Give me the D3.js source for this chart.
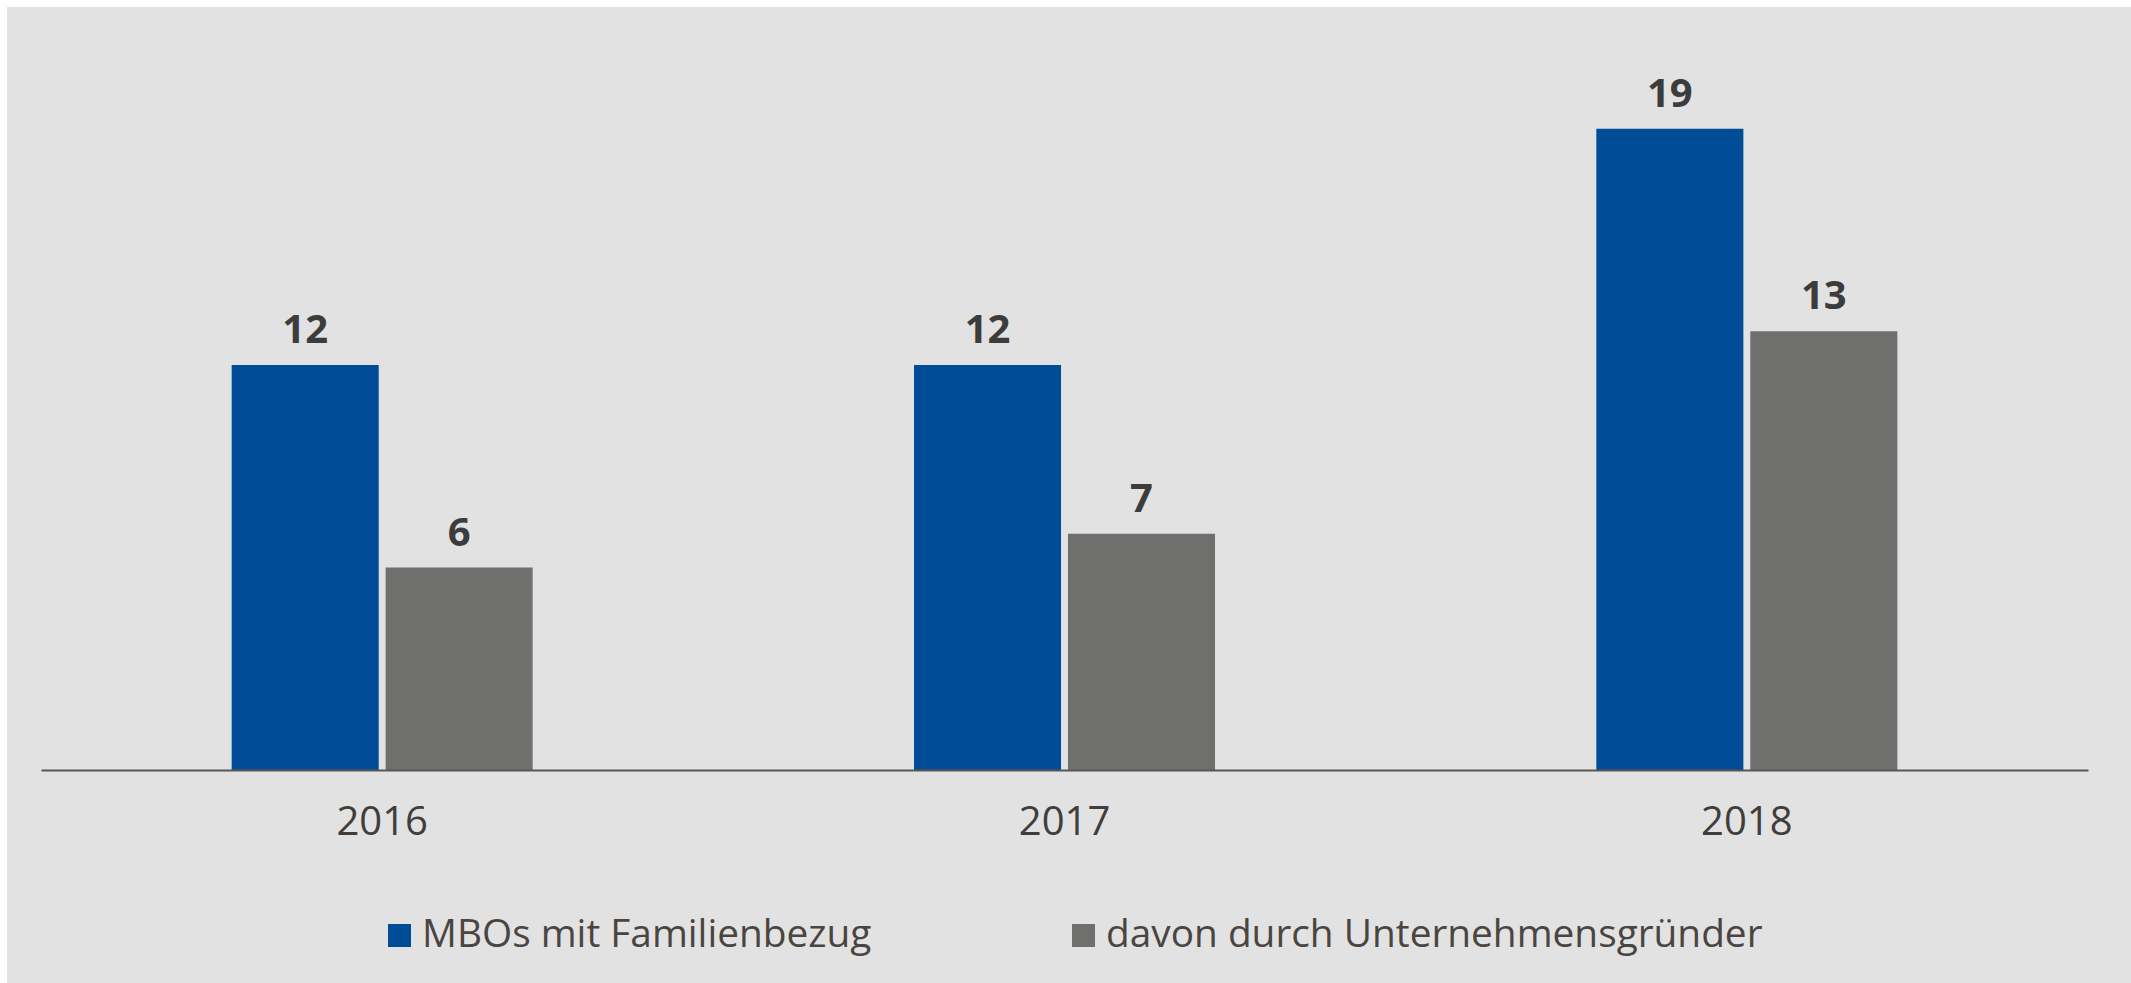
<!DOCTYPE html>
<html>
<head>
<meta charset="utf-8">
<script src="https://cdn.jsdelivr.net/npm/d3@7"></script>
<style>
    html, body { margin: 0; padding: 0; background: #ffffff; }
    #chart-area { width: 2131px; height: 983px; }
    text { font-family: "Open Sans", "Noto Sans", sans-serif; }
</style>
</head>
<body>
<div id="chart-area"></div>
<script>

// chart data
let years = ["2016", "2017", "2018"];
let seriesNames = ["MBOs mit Familienbezug", "davon durch Unternehmensgründer"];
let mboFamily = [12, 12, 19];
let founders = [6, 7, 13];
let seriesColors = ["#004c97", "#6f6f6e"];


class GroupedBarVis {

    constructor(_parentElement) {
        this.parentElement = _parentElement;
        this.initVis();
    }

    initVis() {
        let vis = this;

        vis.margin = {top: 95, right: 43, bottom: 213, left: 41};
        vis.fullWidth = 2131;
        vis.fullHeight = 983;
        vis.width = vis.fullWidth - vis.margin.left - vis.margin.right;
        vis.height = vis.fullHeight - vis.margin.top - vis.margin.bottom;

        vis.root = d3.select("#" + vis.parentElement).append("svg")
            .attr("width", vis.fullWidth)
            .attr("height", vis.fullHeight);

        // grey panel behind the chart
        vis.root.append("rect")
            .attr("x", 7)
            .attr("y", 7)
            .attr("width", vis.fullWidth - 7)
            .attr("height", vis.fullHeight - 7)
            .attr("fill", "#e2e2e2");

        vis.svg = vis.root.append("g")
            .attr("transform", "translate(" + vis.margin.left + "," + vis.margin.top + ")");

        // scales
        vis.x0 = d3.scaleBand()
            .domain(years)
            .range([0, vis.width])
            .padding(0);

        vis.x1 = d3.scaleBand()
            .domain(seriesNames)
            .range([0, 301])
            .paddingInner(0.045);

        vis.y = d3.scaleLinear()
            .domain([0, 20])
            .range([vis.height, 0]);

        vis.color = d3.scaleOrdinal()
            .domain(seriesNames)
            .range(seriesColors);

        vis.wrangleData();
    }

    wrangleData() {
        let vis = this;

        vis.displayData = years.map((year, i) => ({
            year: year,
            values: [
                {name: seriesNames[0], value: mboFamily[i]},
                {name: seriesNames[1], value: founders[i]}
            ]
        }));

        vis.updateVis();
    }

    updateVis() {
        let vis = this;
        let groupOffset = (vis.x0.bandwidth() - 301) / 2;

        let groups = vis.svg.selectAll(".year-group")
            .data(vis.displayData)
            .enter()
            .append("g")
            .attr("class", "year-group")
            .attr("transform", d => "translate(" + (vis.x0(d.year) + groupOffset) + ",0)");

        groups.selectAll("rect")
            .data(d => d.values)
            .enter()
            .append("rect")
            .attr("x", d => vis.x1(d.name))
            .attr("y", d => vis.y(d.value))
            .attr("width", vis.x1.bandwidth())
            .attr("height", d => vis.y(0) - vis.y(d.value))
            .attr("fill", d => vis.color(d.name));

        // value labels
        groups.selectAll(".value-label")
            .data(d => d.values)
            .enter()
            .append("text")
            .attr("class", "value-label")
            .attr("x", d => vis.x1(d.name) + vis.x1.bandwidth() / 2)
            .attr("y", d => vis.y(d.value) - 22)
            .attr("text-anchor", "middle")
            .style("font-size", "40px")
            .style("font-weight", "bold")
            .style("fill", "#3c3c3c")
            .text(d => d.value);

        // x axis
        vis.xAxis = d3.axisBottom(vis.x0)
            .tickSize(0)
            .tickPadding(0);

        let axisG = vis.svg.append("g")
            .attr("class", "x-axis")
            .attr("transform", "translate(0," + vis.height + ")")
            .call(vis.xAxis);

        axisG.select(".domain")
            .attr("stroke", "#5b5651")
            .attr("stroke-width", 2);

        axisG.selectAll(".tick text")
            .attr("y", 65)
            .attr("dy", 0)
            .style("font-size", "40px")
            .style("font-family", "'Open Sans', sans-serif")
            .style("fill", "#403d3a");

        // legend
        let legendX = [388, 1072];
        let legend = vis.root.selectAll(".legend-item")
            .data(seriesNames)
            .enter()
            .append("g")
            .attr("class", "legend-item")
            .attr("transform", (d, i) => "translate(" + legendX[i] + ",924)");

        legend.append("rect")
            .attr("width", 23)
            .attr("height", 23)
            .attr("fill", d => vis.color(d));

        legend.append("text")
            .attr("x", 34)
            .attr("y", 23)
            .style("font-size", "38.8px")
            .style("fill", "#4a4540")
            .text(d => d);
    }
}

let barVis = new GroupedBarVis("chart-area");

</script>
</body>
</html>
